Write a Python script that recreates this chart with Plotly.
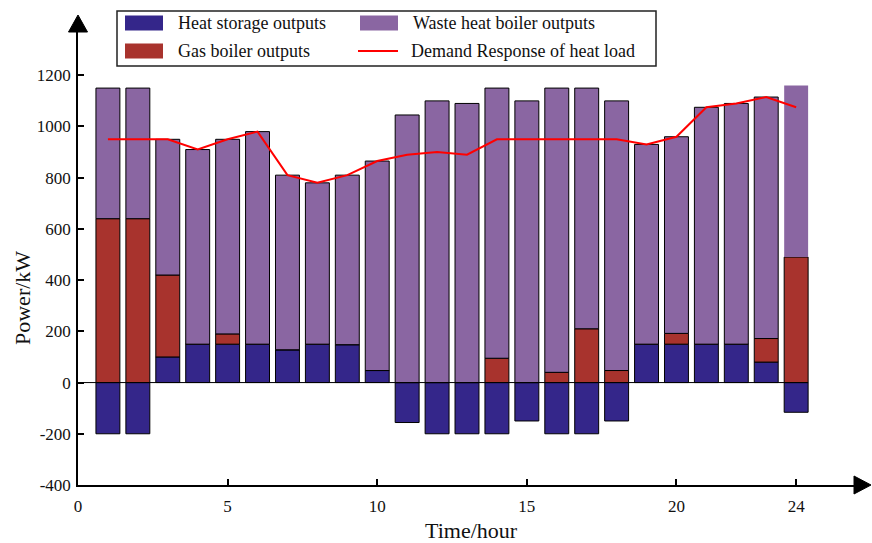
import plotly.graph_objects as go

hours = list(range(1, 25))
heat_storage = [-200, -200, 100, 150, 150, 150, 128, 150, 148, 47, -156, -200,
                -200, -200, -150, -200, -200, -150, 150, 150, 150, 150, 80, -116]
gas_boiler = [640, 640, 320, 0, 40, 0, 0, 0, 0, 0, 0, 0,
              0, 95, 0, 40, 210, 47, 0, 42, 0, 0, 92, 490]
waste_heat = [510, 510, 530, 760, 760, 830, 682, 630, 662, 818, 1045, 1100,
              1090, 1055, 1100, 1110, 940, 1053, 780, 768, 925, 940, 943, 670]
demand = [950, 950, 950, 910, 950, 980, 810, 780, 810, 865, 890, 900,
          890, 950, 950, 950, 950, 950, 930, 960, 1075, 1090, 1115, 1075]
x_ticks = [0, 5, 10, 15, 20, 24]
y_ticks = [-400, -200, 0, 200, 400, 600, 800, 1000, 1200]
y_tick_text = ["-400", "-200", "0", "200", "400", "600", "800", "1000", "1200"]

C_BLUE = "#34268A"
C_RED = "#A8332D"
C_PURPLE = "#8A66A2"
FONT = "Liberation Serif, Times New Roman, serif"

W, H = 872, 543
ML, MR, MT, MB = 78, 16, 32, 58
XR = [0, 26.0]
YR = [-400, 1369]

def px2x(px):
    return (px - ML) / (W - ML - MR)

def py2y(py):
    return (H - MB - py) / (H - MT - MB)

fig = go.Figure()
fig.add_trace(go.Bar(x=hours, y=heat_storage, name="Heat storage outputs",
                     marker=dict(color=C_BLUE, line=dict(color="black", width=1)),
                     width=0.8, showlegend=False))
fig.add_trace(go.Bar(x=hours, y=gas_boiler, name="Gas boiler outputs",
                     marker=dict(color=C_RED, line=dict(color="black", width=1)),
                     width=0.8, showlegend=False))
waste_line = ["black"] * 23 + ["rgba(0,0,0,0)"]
fig.add_trace(go.Bar(x=hours, y=waste_heat, name="Waste heat boiler outputs",
                     marker=dict(color=C_PURPLE, line=dict(color=waste_line, width=1)),
                     width=0.8, showlegend=False))
fig.add_trace(go.Scatter(x=hours, y=demand, name="Demand Response of heat load",
                         mode="lines", line=dict(color="#FF0000", width=2),
                         showlegend=False))

shapes = []
# zero line
shapes.append(dict(type="line", xref="x", yref="y", x0=0, x1=24.4, y0=0, y1=0,
                   line=dict(color="black", width=1), layer="above"))
# y axis arrow (pixel-sized, anchored at top of y axis)
shapes.append(dict(type="path", xref="paper", yref="paper", xsizemode="pixel", ysizemode="pixel",
                   xanchor=0, yanchor=1, path="M -9.5 0 L 9.5 0 L 0 17 Z",
                   fillcolor="black", line=dict(color="black", width=1), layer="above"))
# x axis arrow
shapes.append(dict(type="path", xref="paper", yref="paper", xsizemode="pixel", ysizemode="pixel",
                   xanchor=1, yanchor=0, path="M -2 9 L 15 0 L -2 -9 Z",
                   fillcolor="black", line=dict(color="black", width=1), layer="above"))
# legend box
shapes.append(dict(type="rect", xref="paper", yref="paper",
                   x0=px2x(117), x1=px2x(656), y0=py2y(66), y1=py2y(11),
                   line=dict(color="#222", width=1.5), fillcolor="white", layer="above"))
legend_items = [
    ("Heat storage outputs", C_BLUE, "bar", 125, 23),
    ("Waste heat boiler outputs", C_PURPLE, "bar", 360, 23),
    ("Gas boiler outputs", C_RED, "bar", 125, 51),
    ("Demand Response of heat load", "#FF0000", "line", 358, 51),
]
annotations = []
for label, col, kind, sx, cy in legend_items:
    if kind == "bar":
        shapes.append(dict(type="rect", xref="paper", yref="paper",
                           x0=px2x(sx), x1=px2x(sx + 38), y0=py2y(cy + 7.5), y1=py2y(cy - 7.5),
                           line=dict(width=0), fillcolor=col, layer="above"))
    else:
        shapes.append(dict(type="line", xref="paper", yref="paper",
                           x0=px2x(sx), x1=px2x(sx + 40), y0=py2y(cy), y1=py2y(cy),
                           line=dict(color=col, width=2), layer="above"))
    annotations.append(dict(xref="paper", yref="paper", x=px2x(sx + 51), y=py2y(cy),
                            xanchor="left", yanchor="middle", showarrow=False,
                            text=label, font=dict(family=FONT, size=18, color="#111")))
# axis titles
annotations.append(dict(xref="paper", yref="paper", x=px2x(471), y=py2y(530),
                        xanchor="center", yanchor="middle", showarrow=False,
                        text="Time/hour", font=dict(family=FONT, size=22, color="#111")))
annotations.append(dict(xref="paper", yref="paper", x=px2x(22), y=py2y(298),
                        xanchor="center", yanchor="middle", showarrow=False, textangle=-90,
                        text="Power/kW", font=dict(family=FONT, size=22, color="#111")))

fig.update_layout(
    width=W, height=H,
    margin=dict(l=ML, r=MR, t=MT, b=MB, pad=0),
    barmode="relative",
    plot_bgcolor="white", paper_bgcolor="white",
    font=dict(family=FONT, size=17, color="#111"),
    shapes=shapes, annotations=annotations,
    xaxis=dict(range=XR, tickvals=x_ticks, ticks="inside", ticklen=6, tickwidth=1.5,
               tickcolor="black", showline=True, linecolor="black", linewidth=1.5,
               showgrid=False, zeroline=False, ticklabelstandoff=5,
               tickfont=dict(family=FONT, size=17)),
    yaxis=dict(range=YR, tickvals=y_ticks, ticktext=y_tick_text, ticks="inside", ticklen=6,
               tickwidth=1.5, tickcolor="black", showline=True, linecolor="black", linewidth=1.5,
               showgrid=False, zeroline=False, ticklabelstandoff=2,
               tickfont=dict(family=FONT, size=17)),
)

fig.write_html("out.html")
